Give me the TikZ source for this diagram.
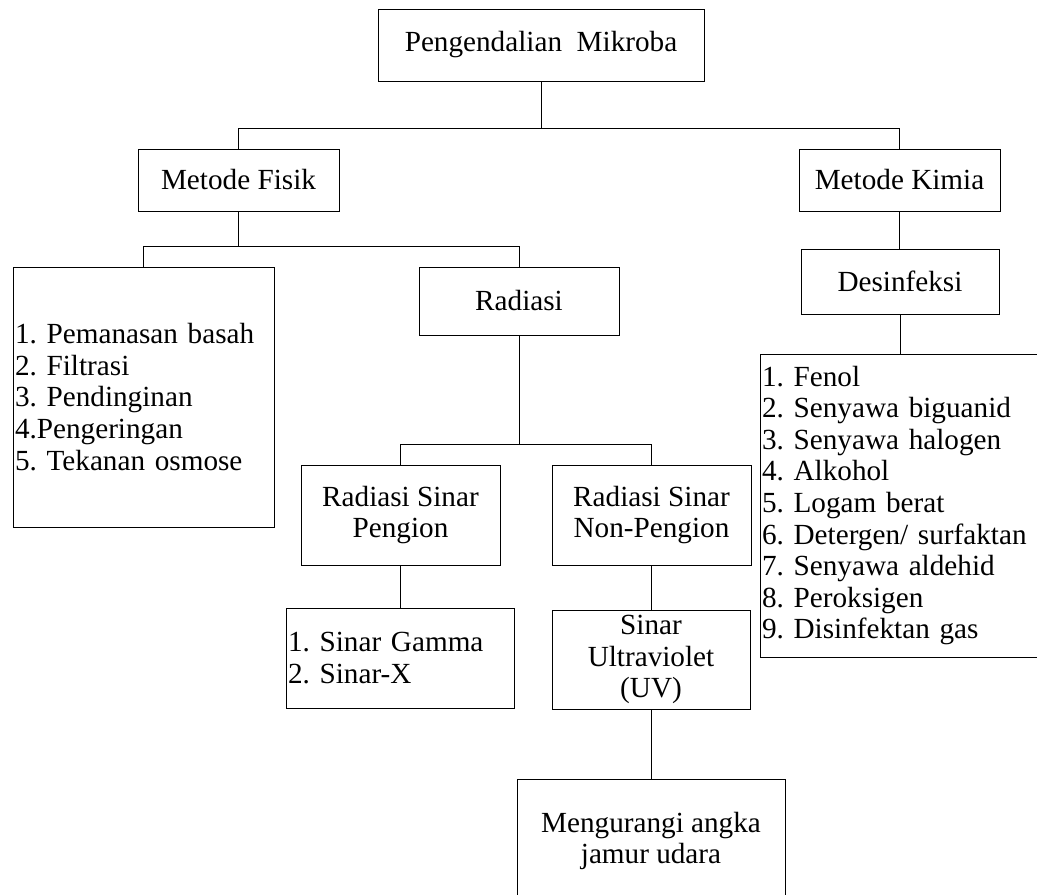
\documentclass[tikz,border=0pt]{standalone}
\usepackage{fontspec}
\setmainfont{Liberation Serif}
\frenchspacing

\begin{document}
\begin{tikzpicture}[x=0.5pt, y=-0.5pt, line width=0.5pt,
                    every node/.style={font=\fontsize{14.6}{15.8}\selectfont},
                    box/.style={draw, inner sep=1pt, align=center},
                    listbox/.style={box, align=left}]

\useasboundingbox (0,0) rectangle (1037,894);

\node[box, minimum width=163pt, minimum height=36pt] (root) at (541,45) {Pengendalian~ Mikroba};
\node[box, minimum width=100.5pt, minimum height=31pt] (fisik) at (238.5,180) {Metode Fisik};
\node[box, minimum width=100.5pt, minimum height=31pt] (kimia) at (899.5,180) {Metode Kimia};
\node[box, minimum width=99pt, minimum height=32.5pt] (desinf) at (900,281.5) {Desinfeksi};

\node[listbox, text width=128.5pt, minimum height=130pt] (fisiklist) at (143.5,397)
  {1. Pemanasan basah\\2. Filtrasi\\3. Pendinginan\\4.Pengeringan\\5. Tekanan osmose};
\node[box, minimum width=100pt, minimum height=34pt] (radiasi) at (519,301) {Radiasi};

\node[listbox, text width=140.5pt, minimum height=151.5pt] (kimialist) at (902.5,505.5)
  {1. Fenol\\2. Senyawa biguanid\\3. Senyawa halogen\\4. Alkohol\\5. Logam berat\\
   6. Detergen/ surfaktan\\7. Senyawa aldehid\\8. Peroksigen\\9. Disinfektan gas};

\node[box, minimum width=99.5pt, minimum height=50pt] (pengion) at (400.5,515) {Radiasi Sinar\\Pengion};
\node[box, minimum width=99.5pt, minimum height=50pt] (nonpengion) at (651.5,515) {Radiasi Sinar\\Non-Pengion};

\node[listbox, text width=112pt, minimum height=50pt] (sinarlist) at (400,658)
  {1. Sinar Gamma\\2. Sinar-X};
\node[box, minimum width=99pt, minimum height=49.5pt] (uv) at (651,659.5) {Sinar\\Ultraviolet\\(UV)};

\node[box, minimum width=134pt, minimum height=62pt] (jamur) at (651,841) {Mengurangi angka\\jamur udara};

% connectors
\draw (root.south) -- ++(0,47) coordinate (bus1);
\draw (fisik.north) |- (bus1) -| (kimia.north);
\draw (fisik.south) -- ++(0,35) coordinate (bus2);
\draw (fisiklist.north) |- (bus2) -| (radiasi.north);
\draw (kimia.south) -- (kimia.south |- desinf.north);
\draw (desinf.south) -- (desinf.south |- kimialist.north);
\draw (radiasi.south) -- ++(0,109) coordinate (bus3);
\draw (pengion.north) |- (bus3) -| (nonpengion.north);
\draw (pengion.south) -- (pengion.south |- sinarlist.north);
\draw (nonpengion.south) -- (nonpengion.south |- uv.north);
\draw (uv.south) -- (uv.south |- jamur.north);
\end{tikzpicture}
\end{document}
